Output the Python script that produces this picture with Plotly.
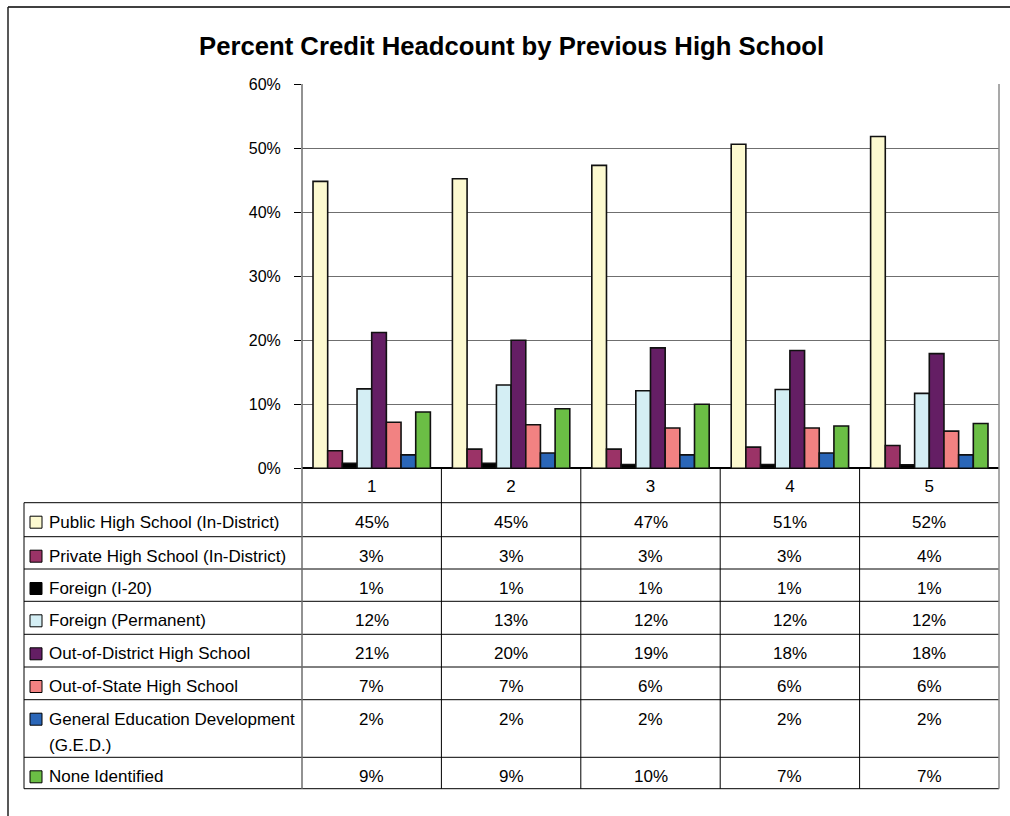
import math
import plotly.graph_objects as go

# --- data ---
categories = ["1", "2", "3", "4", "5"]

series_names = [
    "Public High School (In-District)",
    "Private High School (In-District)",
    "Foreign (I-20)",
    "Foreign (Permanent)",
    "Out-of-District High School",
    "Out-of-State High School",
    "General Education Development<br>(G.E.D.)",
    "None Identified",
]

public_hs = [44.8, 45.2, 47.3, 50.6, 51.8]
private_hs = [2.75, 3.0, 3.0, 3.3, 3.55]
foreign_i20 = [0.8, 0.8, 0.6, 0.6, 0.55]
foreign_perm = [12.4, 13.0, 12.1, 12.3, 11.7]
out_district = [21.2, 20.0, 18.8, 18.4, 17.9]
out_state = [7.2, 6.8, 6.3, 6.3, 5.8]
ged = [2.1, 2.4, 2.1, 2.4, 2.1]
none_identified = [8.8, 9.3, 10.0, 6.6, 7.0]

all_series = [public_hs, private_hs, foreign_i20, foreign_perm,
              out_district, out_state, ged, none_identified]

colors = ["#FCF9D0", "#9B3367", "#000000", "#D4EEF4",
          "#641E64", "#F28282", "#2A66B8", "#6BBE45"]

# --- layout helpers (pixels -> paper) ---
W, H = 1010, 816
FONT = "Liberation Sans, Arial, sans-serif"


def px(x):
    return x / W


def py(y):
    return 1 - y / H


plot_left, plot_right = 302, 999
plot_top, plot_bottom = 84, 468.3
table_left = 24
row_lines = [502.7, 536.7, 569, 601.3, 634.3, 667, 699.7, 757.3, 788.7]

fig = go.Figure()

for name, vals, col in zip(series_names, all_series, colors):
    fig.add_trace(go.Bar(
        x=categories, y=vals, name=name.replace("<br>", " "),
        marker=dict(color=col, line=dict(color="#111111", width=1.6)),
        showlegend=False,
    ))

shapes = []
annotations = []


def hline(y, x0, x1, color="#000000", width=1):
    shapes.append(dict(type="line", xref="paper", yref="paper",
                       x0=px(x0), x1=px(x1), y0=py(y), y1=py(y),
                       line=dict(color=color, width=width)))


def vline(x, y0, y1, color="#000000", width=1, xref="paper"):
    xx = px(x) if xref == "paper" else x
    shapes.append(dict(type="line", xref=xref, yref="paper",
                       x0=xx, x1=xx, y0=py(y0), y1=py(y1),
                       line=dict(color=color, width=width)))


# outer frame
hline(7, 8, W, color="#404040", width=2)
vline(8, 7, H, color="#202020", width=1.5)

# table grid
for y in row_lines:
    hline(y, table_left, plot_right)
vline(table_left, row_lines[0], row_lines[-1])
vline(plot_left, plot_top, row_lines[-1], color="#6e6e6e", width=1.5)
vline(plot_right, plot_top, row_lines[-1], color="#8c8c8c", width=1.5)
for i in range(len(categories) - 1):
    vline(i + 0.5, plot_bottom, row_lines[-1], xref="x")

# table rows: legend keys, labels, values
for r, (name, vals, col) in enumerate(zip(series_names, all_series, colors)):
    yc = row_lines[r] + 19.5
    shapes.append(dict(type="rect", xref="paper", yref="paper",
                       x0=px(30), x1=px(42), y0=py(yc - 6), y1=py(yc + 6),
                       fillcolor=col, line=dict(color="#000000", width=1)))
    lines = name.split("<br>")
    for k, txt in enumerate(lines):
        annotations.append(dict(
            xref="paper", yref="paper", x=px(47), y=py(yc + k * 26),
            text=txt, showarrow=False, xanchor="left", yanchor="middle",
            font=dict(family=FONT, size=17, color="#000000")))
    for ci, v in enumerate(vals):
        annotations.append(dict(
            xref="x", yref="paper", x=ci, y=py(yc),
            text=f"{math.floor(v + 0.5)}%", showarrow=False,
            xanchor="center", yanchor="middle",
            font=dict(family=FONT, size=17, color="#000000")))

annotations.append(dict(
    xref="paper", yref="paper", x=px(511), y=py(46),
    text="<b>Percent Credit Headcount by Previous High School</b>",
    showarrow=False, xanchor="center", yanchor="middle",
    font=dict(family=FONT, size=25.7, color="#000000")))

fig.update_layout(
    width=W, height=H,
    margin=dict(l=0, r=0, t=0, b=0, autoexpand=False),
    paper_bgcolor="#ffffff", plot_bgcolor="#ffffff",
    barmode="group", bargap=0.158, bargroupgap=0,
    font=dict(family=FONT, size=16, color="#000000"),
    xaxis=dict(
        domain=[px(plot_left), px(plot_right)],
        type="category", range=[-0.5, len(categories) - 0.5],
        showgrid=False, zeroline=False, showline=False,
        ticks="", ticklabelstandoff=6, automargin=False,
        tickfont=dict(family=FONT, size=17),
    ),
    yaxis=dict(
        domain=[py(plot_bottom), py(plot_top)],
        range=[0, 60], dtick=10, ticksuffix="%",
        showgrid=True, gridcolor="#6f6f6f", gridwidth=1,
        zeroline=True, zerolinecolor="#000000", zerolinewidth=1.5,
        showline=False, automargin=False,
        ticks="outside", ticklen=7, tickcolor="#000000",
        ticklabelstandoff=10,
        tickfont=dict(family=FONT, size=16),
    ),
    shapes=shapes,
    annotations=annotations,
)

fig.write_html(
    "out.html",
    config={"displayModeBar": False},
    post_script="document.body.style.margin='0';document.body.style.overflow='hidden';",
)
